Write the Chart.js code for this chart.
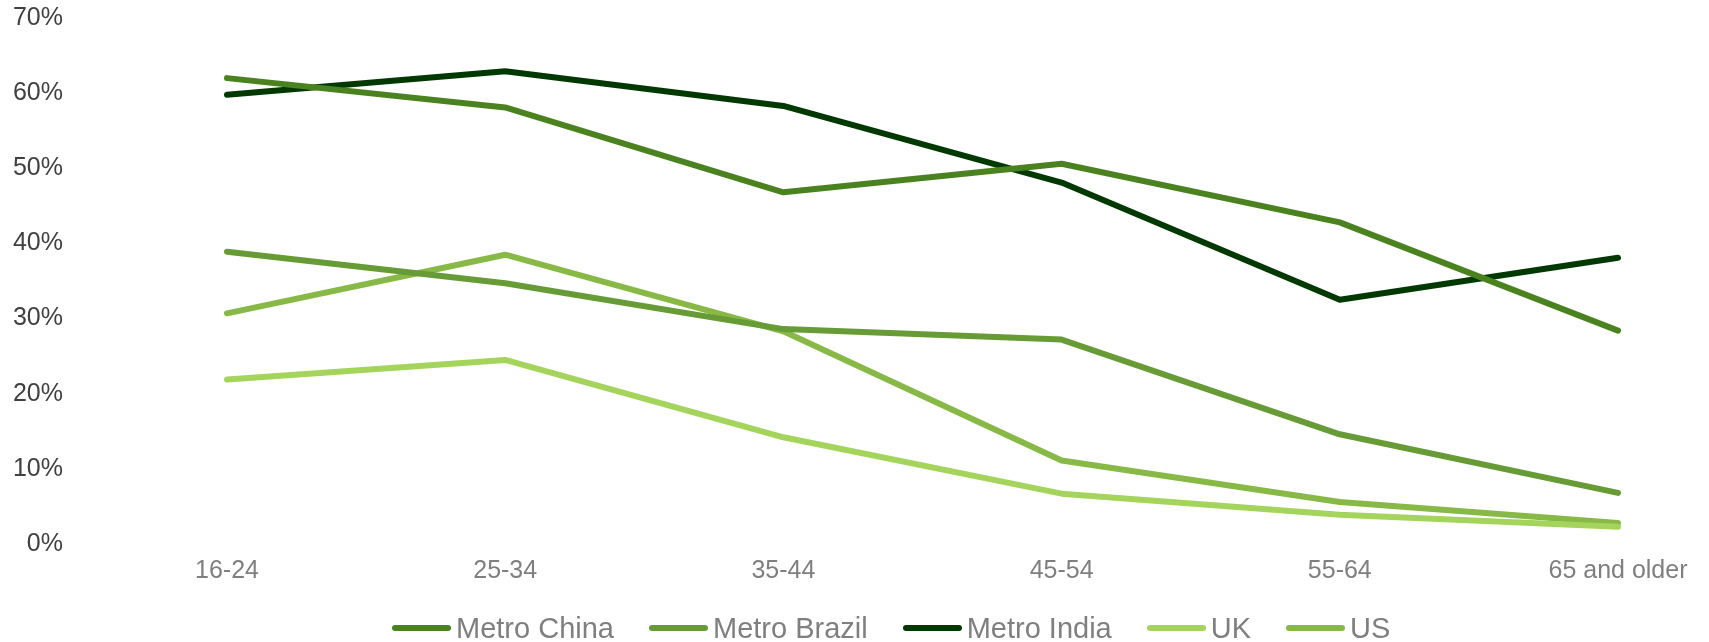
<!DOCTYPE html>
<html>
<head>
<meta charset="utf-8">
<script src="https://cdn.jsdelivr.net/npm/chart.js@4/dist/chart.umd.min.js"></script>
<style>
  html, body { margin: 0; padding: 0; background: #ffffff; }
  #wrap { position: relative; width: 1709px; height: 642px; }
  #chart { position: absolute; left: 0; top: 0; }
  #legend {
    position: absolute; left: 392px; top: 609px; height: 38px;
    display: flex; align-items: center; gap: 35px;
    font-family: "Liberation Sans", Arial, sans-serif; font-size: 29px; color: #7f7f7f;
  }
  .item { display: flex; align-items: center; white-space: nowrap; }
  .swatch { width: 59px; height: 6px; border-radius: 3px; margin-right: 5px; }
</style>
</head>
<body>
<div id="wrap">
  <canvas id="chart" width="1709" height="642"></canvas>
  <div id="legend"></div>
</div>
<script>
// Age groups on the category axis
const ageGroups = ['16-24', '25-34', '35-44', '45-54', '55-64', '65 and older'];

// Share of respondents per age group (%)
const metroChina  = [62.0, 58.1, 46.8, 50.6, 42.8, 28.4];
const metroBrazil = [38.9, 34.7, 28.6, 27.2, 14.6, 6.8];
const metroIndia  = [59.8, 62.9, 58.3, 48.1, 32.5, 38.1];
const uk          = [21.9, 24.5, 14.2, 6.7, 3.9, 2.3];
const us          = [30.7, 38.5, 28.3, 11.1, 5.6, 2.8];

const seriesNames = ['Metro China', 'Metro Brazil', 'Metro India', 'UK', 'US'];
const seriesColors = ['#4b8220', '#679b36', '#023802', '#a5d45c', '#88b946'];
const seriesValues = [metroChina, metroBrazil, metroIndia, uk, us];

// Value axis ticks
const yTickMin = 0;
const yTickMax = 70;
const yTickStep = 10;

const datasets = seriesNames.map((name, i) => ({
  label: name,
  data: seriesValues[i],
  borderColor: seriesColors[i],
  backgroundColor: seriesColors[i],
  borderWidth: 6,
  borderCapStyle: 'round',
  borderJoinStyle: 'round',
  pointRadius: 0,
  pointHoverRadius: 0,
  tension: 0,
  fill: false
}));

const chart = new Chart(document.getElementById('chart'), {
  type: 'line',
  data: { labels: ageGroups, datasets },
  options: {
    responsive: false,
    animation: false,
    layout: { padding: { top: 18, right: 91, bottom: 44, left: 0 } },
    plugins: {
      legend: { display: false },
      tooltip: { enabled: false }
    },
    scales: {
      x: {
        offset: false,
        grid: { display: false, drawTicks: false },
        border: { display: false },
        ticks: {
          color: '#7f7f7f',
          font: { family: '"Liberation Sans", Arial, sans-serif', size: 25 },
          padding: 12,
          maxRotation: 0,
          autoSkip: false
        }
      },
      y: {
        min: yTickMin,
        max: yTickMax,
        grid: { display: false, drawTicks: false },
        border: { display: false },
        ticks: {
          stepSize: yTickStep,
          color: '#404040',
          font: { family: '"Liberation Sans", Arial, sans-serif', size: 25 },
          padding: 164,
          callback: v => v + '%'
        },
        // wide label gutter: keep the width, but not the vertical padding
        afterFit: scale => {
          scale.width = 227;
          scale.paddingTop = 0;
          scale.paddingBottom = 0;
        }
      }
    }
  }
});

// Legend built from the chart's own datasets
const legendEl = document.getElementById('legend');
chart.data.datasets.forEach(ds => {
  const item = document.createElement('div');
  item.className = 'item';
  const sw = document.createElement('span');
  sw.className = 'swatch';
  sw.style.background = ds.borderColor;
  const txt = document.createElement('span');
  txt.textContent = ds.label;
  item.appendChild(sw);
  item.appendChild(txt);
  legendEl.appendChild(item);
});
</script>
</body>
</html>
